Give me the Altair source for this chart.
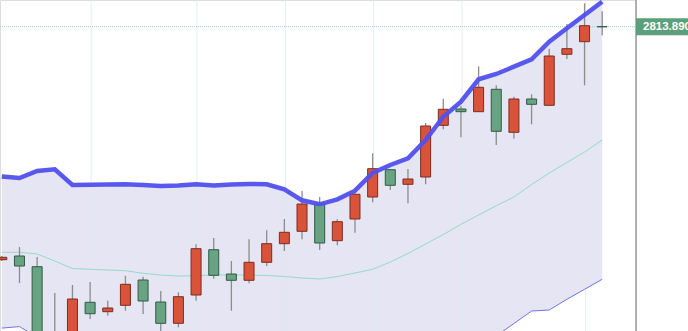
import altair as alt
import pandas as pd

# OHLC candles (price units)
open_ = [2347.9, 2355.3, 2333.9, 2157.3, 2177.3, 2262.7, 2243.9, 2256.7, 2307.3, 2263.3,
         2220.7, 2277.3, 2367.9, 2319.3, 2306.7, 2342.7, 2379.9, 2404.7, 2459.3, 2385.9,
         2429.3, 2473.3, 2527.9, 2498.7, 2513.3, 2616.7, 2649.3, 2643.9, 2688.7, 2602.7,
         2669.3, 2656.7, 2758.7, 2783.9, 2813.89]
close = [2352.7, 2335.3, 2167.3, 2197.3, 2269.3, 2239.9, 2251.3, 2298.7, 2265.3, 2220.7,
         2273.9, 2369.9, 2316.7, 2306.7, 2342.7, 2379.9, 2402.7, 2459.3, 2381.3, 2423.9,
         2478.7, 2529.9, 2496.7, 2509.3, 2615.3, 2648.7, 2643.9, 2692.7, 2604.7, 2669.3,
         2658.7, 2755.3, 2769.9, 2815.9, 2813.89]
high = [2355.3, 2373.3, 2353.3, 2281.3, 2297.3, 2303.3, 2265.9, 2315.9, 2313.9, 2285.3,
        2282.7, 2378.7, 2391.3, 2345.3, 2388.7, 2406.7, 2429.3, 2485.3, 2473.3, 2428.7,
        2483.9, 2560.7, 2529.3, 2529.3, 2621.3, 2669.9, 2655.3, 2734.7, 2696.7, 2673.9,
        2678.7, 2769.9, 2819.3, 2860.7, 2844.7]
low = [2345.3, 2301.3, 2147.3, 2127.3, 2163.3, 2229.3, 2235.9, 2245.9, 2239.3, 2203.3,
       2212.7, 2265.9, 2309.9, 2245.9, 2300.7, 2335.3, 2365.3, 2388.7, 2367.3, 2376.7,
       2401.9, 2462.7, 2487.3, 2460.7, 2498.7, 2608.7, 2592.7, 2643.9, 2577.3, 2589.9,
       2618.7, 2656.7, 2749.3, 2696.7, 2796.7]

# Bollinger bands
upper = [2514.3, 2511.3, 2525.3, 2528.7, 2497.3, 2497.9, 2498.3, 2498.7, 2497.3, 2495.3,
         2496.3, 2498.7, 2496.3, 2498.3, 2499.3, 2498.7, 2488.7, 2466.7, 2458.7, 2468.7,
         2485.9, 2521.3, 2537.3, 2550.7, 2587.3, 2633.9, 2663.9, 2708.7, 2719.3, 2733.9,
         2748.7, 2783.9, 2810.7, 2837.3, 2863.9]
middle = [2362.7, 2362.7, 2359.3, 2345.3, 2330.3, 2328.7, 2327.3, 2325.9, 2320.7, 2317.3,
          2315.3, 2315.9, 2317.3, 2317.3, 2317.3, 2316.3, 2314.3, 2311.3, 2309.3, 2314.3,
          2321.3, 2328.7, 2343.3, 2360.3, 2379.3, 2398.3, 2418.7, 2437.3, 2455.9, 2473.3,
          2498.3, 2521.3, 2542.3, 2563.3, 2587.3]
lower = [2211.1, 2214.1, 2193.3, 2161.9, 2163.3, 2159.5, 2156.3, 2153.1, 2144.1, 2139.3,
         2134.3, 2133.1, 2138.3, 2136.3, 2135.3, 2133.9, 2139.9, 2155.9, 2159.9, 2159.9,
         2156.7, 2136.1, 2149.3, 2169.9, 2171.3, 2162.7, 2173.5, 2165.9, 2195.3, 2220.3,
         2245.3, 2247.3, 2268.7, 2288.7, 2308.7]

grid_idx = [5, 11, 16, 21, 26, 33]
last_price = [2813.89]
last_label = ["2813.890"]

idx = list(range(len(open_)))
candles = pd.DataFrame({"i": idx, "open": open_, "close": close, "high": high, "low": low})
bands = pd.DataFrame({"i": idx, "upper": upper, "middle": middle, "lower": lower})
grid = pd.DataFrame({"i": grid_idx})
price = pd.DataFrame({"p": last_price, "label": last_label})

xs = alt.Scale(domain=[0.18, 35.63], nice=False, zero=False)
ys = alt.Scale(domain=[2205.3, 2867.3], nice=False, zero=False)

X = lambda f: alt.X(f"{f}:Q", scale=xs, axis=None)
Y = lambda f: alt.Y(f"{f}:Q", scale=ys, axis=None)

fill = alt.Chart(bands).mark_area(color="#e5e5f3", clip=True).encode(
    x=X("i"), y=Y("upper"), y2="lower")

gridlines = alt.Chart(grid).mark_rule(color="#dfeaee", strokeWidth=1, xOffset=1, opacity=0.8).encode(
    x=X("i"), y=alt.value(0), y2=alt.value(331))

mid_line = alt.Chart(bands).mark_line(color="#93dcc6", strokeWidth=1, clip=True).encode(
    x=X("i"), y=Y("middle"))

low_line = alt.Chart(bands).mark_line(color="#7272e6", strokeWidth=1, clip=True).encode(
    x=X("i"), y=Y("lower"))

price_line = alt.Chart(price).mark_rule(color="#9fcdbf", strokeWidth=1, strokeDash=[1, 1]).encode(
    y=Y("p"), x=alt.value(0), x2=alt.value(636))

wicks = alt.Chart(candles).mark_rule(color="#8c8c8c", strokeWidth=1.3, clip=True).encode(
    x=X("i"), y=Y("low"), y2="high")

up_cond = "datum.close > datum.open"
bodies = alt.Chart(candles).mark_bar(size=10, strokeWidth=1, clip=True).encode(
    x=X("i"), y=Y("open"), y2="close",
    fill=alt.condition(up_cond, alt.value("#d9533b"), alt.value("#68a383")),
    stroke=alt.condition(up_cond, alt.value("#7f2b1d"), alt.value("#2f5b43")),
)

up_line = alt.Chart(bands).mark_line(color="#5050ee", strokeWidth=4.5, opacity=0.95, clip=True).encode(
    x=X("i"), y=Y("upper"))

axis_line = alt.Chart(price).mark_rule(color="#9a9a9a", strokeWidth=1.5).encode(
    x=alt.value(636), y=alt.value(0), y2=alt.value(331))

label_box = alt.Chart(price).transform_calculate(
    top="datum.p + 17", bot="datum.p - 17"
).mark_rect(color="#5c9f7b").encode(
    x=alt.value(636), x2=alt.value(700), y=Y("top"), y2="bot")

label_text = alt.Chart(price).mark_text(
    align="left", baseline="middle", color="white", fontSize=11.5, fontWeight="bold",
    font="Liberation Sans", dy=0.5
).encode(x=alt.value(643), y=Y("p"), text="label:N")

chart = alt.layer(
    fill, gridlines, mid_line, low_line, price_line, wicks, bodies, up_line,
    axis_line, label_box, label_text
).properties(
    width=636, height=331,
    autosize=alt.AutoSizeParams(type="none"),
    padding={"left": 0, "top": 0, "right": 52, "bottom": 0},
).configure_view(stroke=None).configure(background="white")

chart.save("out.html", embed_options={"renderer": "svg", "actions": False})
